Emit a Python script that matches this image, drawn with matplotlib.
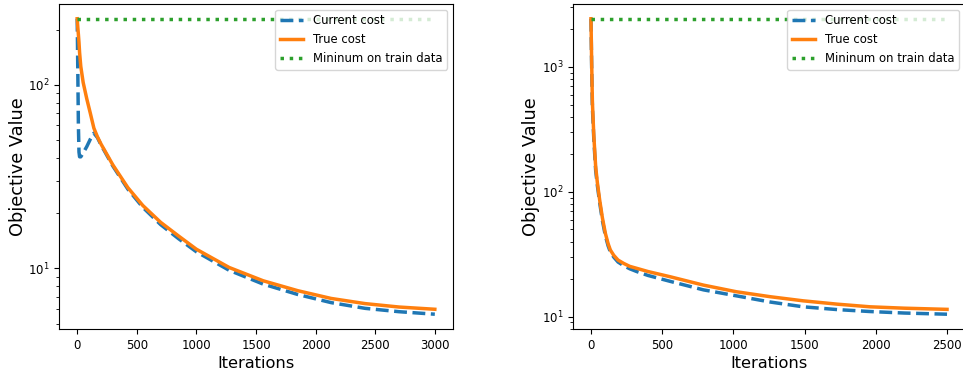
import numpy as np
import matplotlib
matplotlib.use('Agg')
import matplotlib.pyplot as plt

# left run (3000 iterations)
iters_l = [0, 5, 10, 15, 20, 30, 50, 80, 110, 140, 170, 200, 300, 425, 550,
           700, 850, 1000, 1275, 1560, 1850, 2130, 2415, 2700, 3000]
current_l = [229, 120, 60, 43, 40.5, 40.5, 42.5, 46, 50.5, 54.5, 51.5, 47, 36, 27,
             21.5, 17.3, 14.5, 12.3, 9.75, 8.2, 7.2, 6.5, 6.05, 5.8, 5.62]
true_l = [229, 205, 188, 170, 150, 126, 103, 84, 70, 58, 52, 47.5, 36.5, 27.5,
          22.0, 17.8, 15.0, 12.7, 10.1, 8.55, 7.55, 6.85, 6.42, 6.15, 5.98]
min_train_l = 229

# right run (2500 iterations)
iters_r = [0, 5, 10, 20, 33, 45, 61, 80, 101, 120, 136, 160, 190, 230, 272,
           321, 400, 555, 790, 1020, 1260, 1490, 1730, 1960, 2200, 2500]
current_r = [2430, 950, 470, 262, 148, 112, 82, 59, 44.5, 37, 33, 30, 27.4, 25.6,
             24.2, 23.0, 21.4, 19.2, 16.4, 14.7, 13.1, 12.0, 11.4, 11.0, 10.7, 10.47]
true_r = [2430, 1050, 520, 280, 158, 118, 86, 62, 46.5, 38.5, 34.2, 31, 28.4, 26.7,
          25.3, 24.4, 23.0, 20.9, 17.9, 15.85, 14.45, 13.4, 12.6, 12.0, 11.7, 11.45]
min_train_r = 2430

fig = plt.figure(figsize=(9.63, 3.75), dpi=100)
ax1 = fig.add_axes([0.0616, 0.1227, 0.4085, 0.8667])
ax2 = fig.add_axes([0.5952, 0.1227, 0.4067, 0.8667])

def plot_run(ax, it, cur, true, mn):
    ax.plot(it, cur, '--', color='#1f77b4', lw=2.5, label='Current cost')
    ax.plot(it, true, '-', color='#ff7f0e', lw=2.5, label='True cost')
    ax.plot([it[0], it[-1]], [mn, mn], ':', color='#2ca02c', lw=2.5,
            label='Mininum on train data')
    ax.set_yscale('log')
    ax.set_xlabel('Iterations', fontsize=11.7, labelpad=3)
    ax.set_ylabel('Objective Value', fontsize=12.8, labelpad=1)
    ax.tick_params(labelsize=8.5)
    ax.legend(loc='upper right', fontsize=8.4)

plot_run(ax1, iters_l, current_l, true_l, min_train_l)
plot_run(ax2, iters_r, current_r, true_r, min_train_r)

fig.savefig('out.png', dpi=100)
